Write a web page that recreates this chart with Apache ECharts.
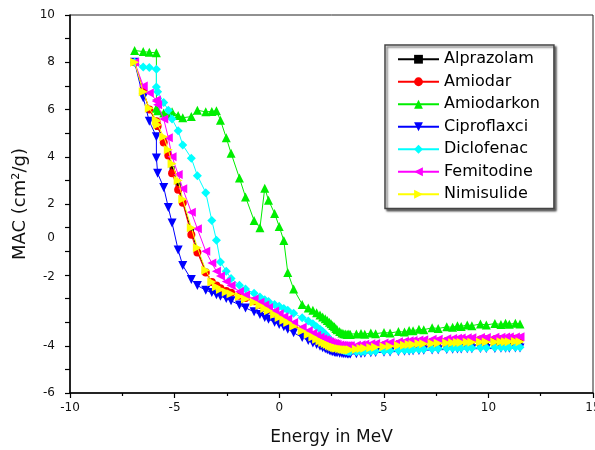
<!DOCTYPE html>
<html>
<head>
<meta charset="utf-8">
<script src="https://cdn.jsdelivr.net/npm/echarts@6/dist/echarts.min.js"></script>
<style>
html,body{margin:0;padding:0;background:#fff;}
#chart{width:595px;height:450px;}
</style>
</head>
<body>
<div id="chart"></div>
<script>
// Energy axis values (ln of energy, as plotted)
const energy = [-6.91,-6.50,-6.21,-5.87,-5.87,-5.81,-5.52,-5.30,-5.12,-4.83,
  -4.61,-4.20,-3.91,-3.51,-3.22,-3.00,-2.81,-2.53,-2.30,-1.90,
  -1.61,-1.20,-0.92,-0.69,-0.51,-0.22,0.00,0.22,0.41,0.69,
  1.10,1.39,1.61,1.79,1.95,2.08,2.20,2.30,2.40,2.48,
  2.56,2.64,2.71,2.77,2.89,3.00,3.09,3.18,3.26,3.33,
  3.40,3.69,3.91,4.09,4.38,4.61,5.01,5.30,5.70,5.99,
  6.21,6.40,6.68,6.91,7.31,7.60,8.01,8.29,8.52,8.70,
  8.99,9.21,9.62,9.90,10.31,10.60,10.82,11.00,11.29,11.51];

const alprazolam = [8.0,6.75,6.0,5.5,5.45,5.25,4.7,4.15,3.5,2.8,
  2.1,0.85,0.05,-0.85,-1.28,-1.47,-1.6,-1.7,-1.78,-1.9,
  -2.0,-2.14,-2.28,-2.4,-2.5,-2.66,-2.78,-2.9,-3.0,-3.15,
  -3.36,-3.5,-3.61,-3.7,-3.78,-3.84,-3.89,-3.93,-3.97,-4.0,
  -4.03,-4.05,-4.07,-4.09,-4.11,-4.13,-4.14,-4.15,-4.15,-4.16,
  -4.15,-4.13,-4.1,-4.09,-4.06,-4.04,-4.02,-4.0,-3.97,-3.96,
  -3.94,-3.93,-3.91,-3.9,-3.89,-3.88,-3.87,-3.86,-3.85,-3.85,
  -3.84,-3.84,-3.83,-3.83,-3.83,-3.82,-3.82,-3.82,-3.81,-3.82];

const amiodar = [8.0,6.8,6.0,5.5,5.45,5.3,4.6,4.05,3.3,2.6,
  2.05,0.7,-0.05,-0.9,-1.3,-1.45,-1.57,-1.68,-1.76,-1.88,
  -1.98,-2.12,-2.26,-2.38,-2.48,-2.63,-2.75,-2.87,-2.97,-3.12,
  -3.32,-3.46,-3.57,-3.66,-3.74,-3.8,-3.85,-3.89,-3.93,-3.96,
  -3.99,-4.01,-4.03,-4.05,-4.07,-4.09,-4.1,-4.11,-4.11,-4.12,
  -4.11,-4.09,-4.07,-4.05,-4.02,-4.0,-3.98,-3.96,-3.93,-3.91,
  -3.9,-3.88,-3.86,-3.85,-3.83,-3.82,-3.8,-3.79,-3.78,-3.77,
  -3.76,-3.75,-3.74,-3.73,-3.72,-3.72,-3.71,-3.71,-3.7,-3.7];

const amiodarkon = [8.5,8.45,8.42,8.4,6.05,5.95,5.85,5.8,5.9,5.75,
  5.65,5.7,5.97,5.9,5.92,5.95,5.55,4.8,4.15,3.1,
  2.3,1.3,1.0,2.67,2.16,1.6,1.05,0.45,-0.9,-1.6,
  -2.25,-2.4,-2.5,-2.6,-2.7,-2.78,-2.86,-2.93,-3.0,-3.07,
  -3.14,-3.2,-3.27,-3.32,-3.4,-3.46,-3.49,-3.5,-3.52,-3.5,
  -3.52,-3.5,-3.48,-3.51,-3.46,-3.49,-3.44,-3.46,-3.4,-3.42,
  -3.35,-3.37,-3.3,-3.32,-3.24,-3.27,-3.2,-3.22,-3.15,-3.18,
  -3.12,-3.15,-3.08,-3.12,-3.06,-3.1,-3.05,-3.09,-3.05,-3.08];

const ciproflaxci = [8.0,6.5,5.5,4.85,3.95,3.3,2.7,1.85,1.2,0.05,
  -0.6,-1.2,-1.45,-1.65,-1.75,-1.84,-1.9,-2.0,-2.1,-2.27,
  -2.4,-2.56,-2.68,-2.8,-2.88,-3.0,-3.1,-3.2,-3.3,-3.45,
  -3.65,-3.78,-3.88,-3.95,-4.02,-4.08,-4.13,-4.17,-4.2,-4.23,
  -4.25,-4.27,-4.29,-4.3,-4.32,-4.33,-4.34,-4.34,-4.35,-4.35,
  -4.35,-4.34,-4.33,-4.31,-4.3,-4.29,-4.27,-4.26,-4.24,-4.23,
  -4.22,-4.21,-4.2,-4.19,-4.18,-4.17,-4.16,-4.15,-4.14,-4.14,
  -4.13,-4.13,-4.12,-4.12,-4.12,-4.11,-4.11,-4.11,-4.1,-4.1];

const diclofenac = [8.0,7.8,7.78,7.7,6.95,6.75,6.3,5.97,5.6,5.1,
  4.5,3.94,3.2,2.48,1.3,0.47,-0.45,-0.85,-1.15,-1.44,
  -1.6,-1.78,-1.94,-2.05,-2.13,-2.25,-2.33,-2.42,-2.5,-2.62,
  -2.82,-2.95,-3.07,-3.2,-3.3,-3.4,-3.5,-3.6,-3.7,-3.78,
  -3.86,-3.94,-4.0,-4.06,-4.12,-4.17,-4.2,-4.22,-4.23,-4.24,
  -4.24,-4.25,-4.25,-4.24,-4.24,-4.23,-4.22,-4.21,-4.2,-4.19,
  -4.18,-4.17,-4.16,-4.15,-4.14,-4.13,-4.12,-4.11,-4.1,-4.1,
  -4.09,-4.09,-4.08,-4.08,-4.07,-4.07,-4.07,-4.06,-4.06,-4.06];

const femitodine = [8.0,7.0,6.7,6.4,6.35,6.2,5.6,4.8,4.0,3.25,
  2.65,1.65,0.95,0.0,-0.5,-0.85,-1.05,-1.28,-1.45,-1.7,
  -1.85,-2.02,-2.16,-2.28,-2.38,-2.53,-2.65,-2.77,-2.87,-3.02,
  -3.22,-3.36,-3.47,-3.56,-3.64,-3.7,-3.75,-3.79,-3.83,-3.86,
  -3.89,-3.91,-3.93,-3.95,-3.97,-3.98,-3.99,-4.0,-4.0,-4.0,
  -4.0,-3.98,-3.96,-3.94,-3.92,-3.9,-3.88,-3.86,-3.83,-3.81,
  -3.79,-3.78,-3.76,-3.75,-3.73,-3.72,-3.7,-3.69,-3.68,-3.67,
  -3.66,-3.66,-3.65,-3.65,-3.64,-3.64,-3.63,-3.63,-3.63,-3.62];

const nimisulide = [8.0,6.75,6.05,5.55,5.5,5.35,4.85,4.3,3.7,3.0,
  2.2,1.0,0.15,-0.8,-1.3,-1.5,-1.62,-1.72,-1.8,-1.92,
  -2.02,-2.16,-2.3,-2.42,-2.52,-2.68,-2.8,-2.92,-3.02,-3.17,
  -3.38,-3.52,-3.63,-3.72,-3.8,-3.86,-3.91,-3.95,-3.99,-4.02,
  -4.05,-4.07,-4.09,-4.11,-4.13,-4.15,-4.16,-4.17,-4.17,-4.18,
  -4.17,-4.15,-4.12,-4.11,-4.08,-4.06,-4.04,-4.02,-3.99,-3.98,
  -3.95,-3.95,-3.92,-3.92,-3.9,-3.89,-3.88,-3.87,-3.86,-3.86,
  -3.85,-3.85,-3.84,-3.84,-3.84,-3.83,-3.83,-3.83,-3.82,-3.83];

const seriesNames = ['Alprazolam','Amiodar','Amiodarkon','Ciproflaxci','Diclofenac','Femitodine','Nimisulide'];
const seriesValues = [alprazolam, amiodar, amiodarkon, ciproflaxci, diclofenac, femitodine, nimisulide];
const seriesColors = ['#000000','#ff0000','#00ee00','#0000ff','#00ffff','#ff00ff','#ffff00'];
const seriesSymbols = ['rect','circle','triangle','path://M0,0 L10,0 L5,10 Z','diamond','path://M10,0 L10,10 L0,5 Z','path://M0,0 L0,10 L10,5 Z'];
const seriesSymbolSizes = [5,8,9,9,9,9,9];

const chart = echarts.init(document.getElementById('chart'), null, {renderer:'canvas'});
const FONT = '"DejaVu Sans", Verdana, sans-serif';

const series = seriesNames.map((name, k) => ({
  name: name,
  type: 'line',
  data: energy.map((x, i) => [x, seriesValues[k][i]]),
  symbol: seriesSymbols[k],
  symbolSize: seriesSymbolSizes[k],
  showAllSymbol: true,
  color: seriesColors[k],
  lineStyle: {width: 1, color: seriesColors[k]},
  itemStyle: {color: seriesColors[k]},
  emphasis: {disabled: true},
  animation: false,
  z: 2 + k
}));

chart.setOption({
  animation: false,
  backgroundColor: '#ffffff',
  grid: {left: 70, right: 2, top: 15, bottom: 57, outerBoundsMode: 'none', containLabel: false,
    show: true, borderColor: '#222', borderWidth: 1, backgroundColor: 'transparent'},
  legend: {
    orient: 'vertical',
    left: 385, top: 45,
    padding: [6, 14, 6, 12],
    itemWidth: 41, itemHeight: 11, itemGap: 6, itemTextGap: 7,
    backgroundColor: '#fff',
    borderColor: '#444', borderWidth: 1.5,
    shadowColor: 'rgba(0,0,0,0.55)', shadowBlur: 2, shadowOffsetX: 2, shadowOffsetY: 2,
    textStyle: {fontFamily: FONT, fontSize: 16, color: '#000', lineHeight: 16.5},
    data: seriesNames
  },
  xAxis: {
    type: 'value', min: -10, max: 15, interval: 5,
    name: 'Energy in MeV', nameLocation: 'middle', nameGap: 36,
    nameTextStyle: {fontFamily: FONT, fontSize: 17, color: '#111'},
    axisLine: {show: true, onZero: false, lineStyle: {color: '#000', width: 1.5}},
    axisTick: {show: true, inside: false, length: 5, lineStyle: {color: '#000', width: 1.2}},
    minorTick: {show: true, splitNumber: 2, length: 3, lineStyle: {color: '#000', width: 1.2}},
    splitLine: {show: false},
    axisLabel: {fontFamily: FONT, fontSize: 12, color: '#111', margin: 9}
  },
  yAxis: {
    type: 'value', min: -6, max: 10, interval: 2,
    name: 'MAC (cm²/g)', nameLocation: 'middle', nameGap: 40,
    nameTextStyle: {fontFamily: FONT, fontSize: 18, color: '#111'},
    axisLine: {show: true, onZero: false, lineStyle: {color: '#000', width: 1.5}},
    axisTick: {show: true, inside: false, length: 5, lineStyle: {color: '#000', width: 1.2}},
    minorTick: {show: true, splitNumber: 2, length: 5, lineStyle: {color: '#000', width: 1.2}},
    splitLine: {show: false},
    axisLabel: {
      fontFamily: FONT, fontSize: 12, color: '#111', margin: 15,
      formatter: function (v) {
        if (v === 0) return '{s0|0}';
        if (v === -2) return '{s2|-2}';
        return String(v);
      },
      rich: {
        s0: {fontFamily: FONT, fontSize: 12, color: '#111', padding: [0, 0, 26, 0]},
        s2: {fontFamily: FONT, fontSize: 12, color: '#111', padding: [0, 0, 44, 0]}
      }
    }
  },
  series: series
});
</script>
</body>
</html>
